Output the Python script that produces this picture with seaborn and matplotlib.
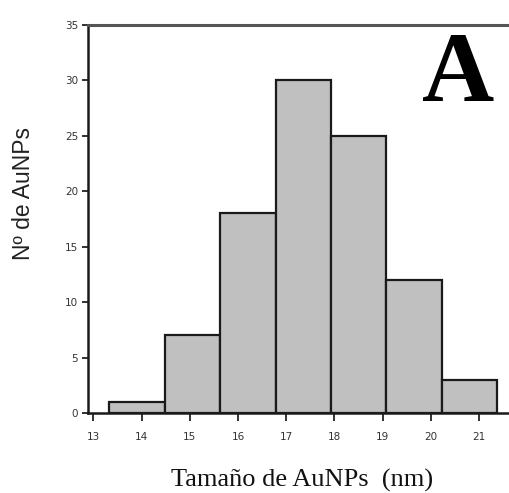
import matplotlib
matplotlib.use("Agg")
import matplotlib.pyplot as plt
import seaborn as sns
import numpy as np
import pandas as pd

# Data
bin_edges = [13.33, 14.48, 15.63, 16.78, 17.93, 19.08, 20.23, 21.38]
counts = [1, 7, 18, 30, 25, 12, 3]
x_ticks = [13, 14, 15, 16, 17, 18, 19, 20, 21]
y_ticks = [0, 5, 10, 15, 20, 25, 30, 35]

centers = [(a + b) / 2 for a, b in zip(bin_edges[:-1], bin_edges[1:])]
df = pd.DataFrame({"size": centers, "count": counts})

sns.set_style("white")
plt.rcParams["font.family"] = ["DejaVu Sans"]

fig = plt.figure(figsize=(5.09, 4.93), dpi=100)
ax = fig.add_axes([88 / 509, 1 - 413 / 493, (508 - 88) / 509, (413 - 25) / 493])

sns.histplot(data=df, x="size", weights="count", bins=bin_edges, ax=ax,
             color="#c0c0c0", alpha=1.0, edgecolor="#1a1a1a", linewidth=1.6)

ax.set_xlim(12.89, 21.6)
ax.set_ylim(0, 35)
ax.set_xticks(x_ticks)
ax.set_yticks(y_ticks)
ax.tick_params(axis="x", direction="out", length=6, width=1.3, labelsize=7.5,
               pad=8, bottom=True, color="#222222", labelcolor="#333333")
ax.tick_params(axis="y", direction="out", length=4, width=1.3, labelsize=7.5,
               pad=3, left=True, color="#222222", labelcolor="#333333")

for side in ["left", "bottom"]:
    ax.spines[side].set_linewidth(1.8)
    ax.spines[side].set_color("#1a1a1a")
ax.spines["top"].set_linewidth(2.2)
ax.spines["top"].set_color("#555555")
ax.spines["right"].set_visible(False)

ax.set_xlabel("")
ax.set_ylabel("")
fig.text(24 / 509, 1 - 193 / 493, "Nº de AuNPs", rotation=90, fontsize=16.5,
         family="Liberation Sans", ha="center", va="center", color="#222222")
fig.text(302 / 509, 1 - 487 / 493, "Tamaño de AuNPs  (nm)", fontsize=19,
         family="Liberation Serif", ha="center", va="baseline", color="#111111")
fig.text(458 / 509, 1 - 101 / 493, "A", fontsize=72, fontweight="bold",
         family="Liberation Serif", ha="center", va="baseline", color="black")

fig.savefig("out.png", dpi=100)
